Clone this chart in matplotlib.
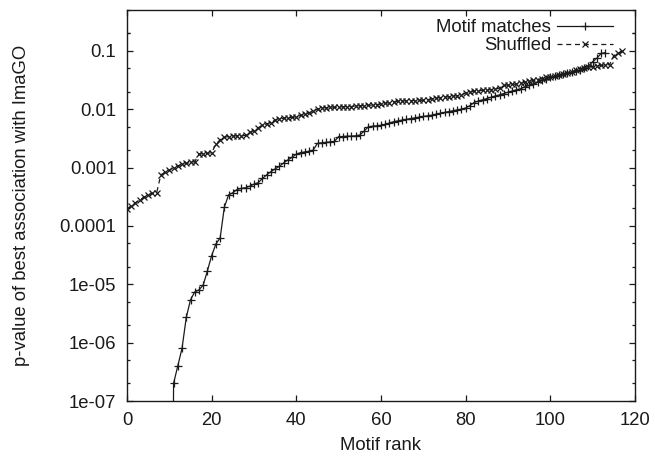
import matplotlib
matplotlib.use("Agg")
import matplotlib.pyplot as plt
from matplotlib.ticker import FixedLocator, FixedFormatter, NullFormatter

plt.rcParams['font.family'] = ['Liberation Sans', 'DejaVu Sans']

# ---- data ----
shuffled_values = [
    1.95e-4, 2.2e-4, 2.5e-4, 2.8e-4, 3.1e-4, 3.4e-4, 3.6e-4, 3.7e-4, 7.5e-4, 8.3e-4,
    9.0e-4, 1.0e-3, 1.07e-3, 1.13e-3, 1.18e-3, 1.22e-3, 1.26e-3, 1.7e-3, 1.72e-3, 1.75e-3,
    1.8e-3, 2.5e-3, 3.0e-3, 3.3e-3, 3.4e-3, 3.45e-3, 3.5e-3, 3.5e-3, 3.55e-3, 4.0e-3,
    4.3e-3, 4.8e-3, 5.3e-3, 5.6e-3, 5.9e-3, 6.5e-3, 6.8e-3, 7.0e-3, 7.1e-3, 7.2e-3,
    7.4e-3, 7.8e-3, 8.2e-3, 8.7e-3, 9.2e-3, 1.0e-2, 1.05e-2, 1.06e-2, 1.07e-2, 1.08e-2,
    1.09e-2, 1.1e-2, 1.1e-2, 1.11e-2, 1.12e-2, 1.14e-2, 1.15e-2, 1.16e-2, 1.18e-2, 1.2e-2,
    1.22e-2, 1.26e-2, 1.3e-2, 1.33e-2, 1.37e-2, 1.38e-2, 1.39e-2, 1.4e-2, 1.4e-2, 1.41e-2,
    1.42e-2, 1.45e-2, 1.5e-2, 1.55e-2, 1.58e-2, 1.6e-2, 1.63e-2, 1.67e-2, 1.7e-2, 1.75e-2,
    1.9e-2, 2.0e-2, 2.03e-2, 2.06e-2, 2.1e-2, 2.13e-2, 2.17e-2, 2.2e-2, 2.3e-2, 2.55e-2,
    2.6e-2, 2.65e-2, 2.7e-2, 2.8e-2, 2.9e-2, 3.0e-2, 3.1e-2, 3.2e-2, 3.35e-2, 3.5e-2,
    3.6e-2, 3.75e-2, 3.9e-2, 4.0e-2, 4.2e-2, 4.4e-2, 4.6e-2, 4.8e-2, 5.0e-2, 5.2e-2,
    5.3e-2, 5.5e-2, 5.6e-2, 5.7e-2, 5.8e-2, 8.3e-2, 9.0e-2, 9.8e-2,
]
shuffled_ranks = list(range(len(shuffled_values)))

motif_values = [
    1e-20, 1e-20, 1e-20, 1e-20, 1e-20, 1e-20, 1e-20, 1e-20, 1e-20, 1e-20,
    1e-20, 2e-7, 4e-7, 8e-7, 2.7e-6, 5.4e-6, 7.4e-6, 8e-6, 9.7e-6, 1.7e-5,
    3.1e-5, 4.9e-5, 6.2e-5, 2.1e-4, 3.4e-4, 3.7e-4, 4.2e-4, 4.4e-4, 4.5e-4, 4.8e-4,
    5.2e-4, 5.5e-4, 6.5e-4, 7.5e-4, 8.5e-4, 9.5e-4, 1.05e-3, 1.2e-3, 1.35e-3, 1.5e-3,
    1.7e-3, 1.8e-3, 1.85e-3, 1.9e-3, 2.0e-3, 2.6e-3, 2.65e-3, 2.7e-3, 2.75e-3, 2.8e-3,
    3.4e-3, 3.4e-3, 3.45e-3, 3.45e-3, 3.5e-3, 3.6e-3, 4.2e-3, 5.0e-3, 5.1e-3, 5.2e-3,
    5.3e-3, 5.5e-3, 5.8e-3, 6.1e-3, 6.3e-3, 6.5e-3, 6.7e-3, 6.9e-3, 7.1e-3, 7.3e-3,
    7.5e-3, 7.7e-3, 7.9e-3, 8.2e-3, 8.5e-3, 8.8e-3, 9.1e-3, 9.4e-3, 9.7e-3, 1.0e-2,
    1.05e-2, 1.15e-2, 1.3e-2, 1.38e-2, 1.45e-2, 1.52e-2, 1.6e-2, 1.68e-2, 1.76e-2, 1.85e-2,
    1.95e-2, 2.05e-2, 2.15e-2, 2.25e-2, 2.4e-2, 2.55e-2, 2.7e-2, 2.9e-2, 3.1e-2, 3.3e-2,
    3.5e-2, 3.65e-2, 3.8e-2, 3.95e-2, 4.1e-2, 4.3e-2, 4.5e-2, 4.7e-2, 5.0e-2, 5.5e-2,
    6.5e-2, 7.5e-2, 9.0e-2, 9.3e-2,
]
motif_ranks = list(range(len(motif_values)))

x_ticks = [0, 20, 40, 60, 80, 100, 120]
y_ticks = [1e-7, 1e-6, 1e-5, 1e-4, 1e-3, 1e-2, 1e-1]
y_tick_labels = ["1e-07", "1e-06", "1e-05", "0.0001", "0.001", "0.01", "0.1"]
y_minor = [m * 10.0 ** e for e in range(-7, 0) for m in (2, 5)] + [0.2]

series_names = ["Motif matches", "Shuffled"]

# ---- figure ----
FS = 13.3
fig = plt.figure(figsize=(6.55, 4.58), dpi=100)
ax = fig.add_axes([127 / 655, 1 - 401 / 458, (635 - 127) / 655, (401 - 10) / 458])

col = "#1a1a1a"
ax.plot(motif_ranks, motif_values, color=col, lw=0.9, ls='-', marker='+',
        ms=5.5, mew=0.9, label=series_names[0])
ax.plot(shuffled_ranks, shuffled_values, color=col, lw=0.9, ls=(0, (4, 3)), marker='x',
        ms=4.5, mew=0.9, label=series_names[1])

ax.set_yscale('log')
ax.set_xlim(0, 120)
ax.set_ylim(1e-7, 0.5)

ax.xaxis.set_major_locator(FixedLocator(x_ticks))
ax.yaxis.set_major_locator(FixedLocator(y_ticks))
ax.yaxis.set_major_formatter(FixedFormatter(y_tick_labels))
ax.yaxis.set_minor_locator(FixedLocator(y_minor))
ax.yaxis.set_minor_formatter(NullFormatter())

ax.tick_params(which='both', direction='in', top=True, right=True, color=col,
               labelsize=FS, labelcolor=col, width=0.9)
ax.tick_params(which='major', length=4.5)
ax.tick_params(which='minor', length=2.3)
ax.tick_params(axis='x', which='major', pad=8)
ax.tick_params(axis='y', which='major', pad=7.7)
for s in ax.spines.values():
    s.set_linewidth(1.0)
    s.set_color(col)

ax.set_xlabel("Motif rank", fontsize=FS, color=col, labelpad=6)
ax.set_ylabel("p-value of best association with ImaGO", fontsize=FS, color=col, labelpad=21)

leg = ax.legend(loc='upper right', frameon=False, markerfirst=False, numpoints=1,
                handlelength=3.07, handletextpad=0.3, fontsize=FS, labelspacing=0.05,
                borderaxespad=0.0, bbox_to_anchor=(0.972, 0.995))
for t in leg.get_texts():
    t.set_color(col)

fig.savefig("out.png", dpi=100)
